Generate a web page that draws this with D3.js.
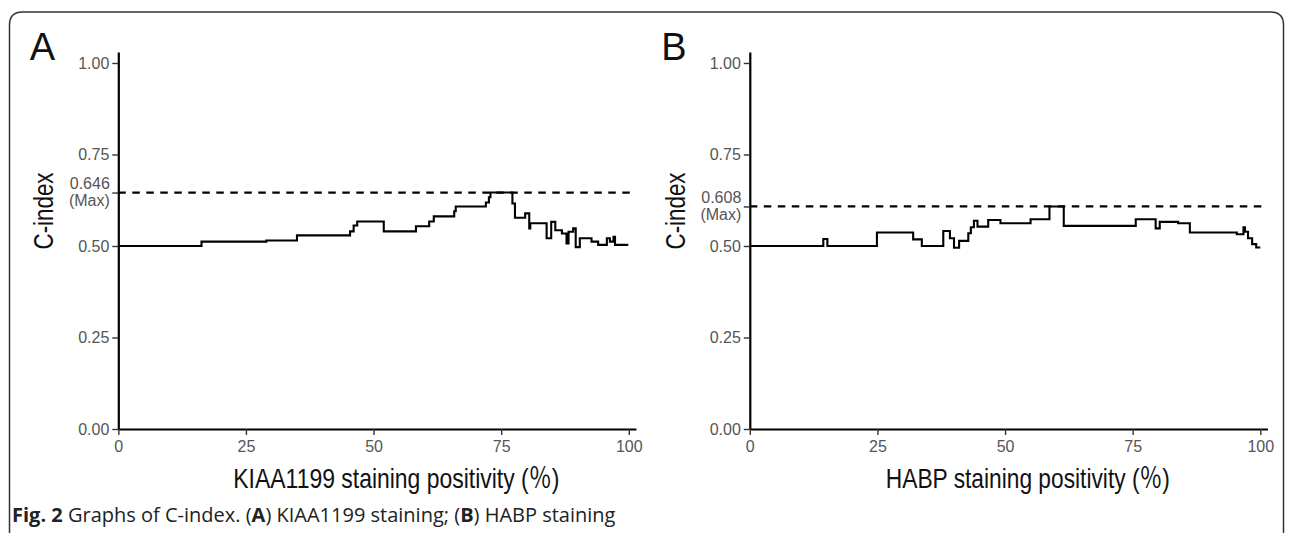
<!DOCTYPE html>
<html>
<head>
<meta charset="utf-8">
<script src="https://cdn.jsdelivr.net/npm/d3@7"></script>
<style>
body { margin: 0; background: #fff; }
svg { display: block; }
</style>
</head>
<body>
<svg width="1293" height="533"></svg>
<script>
// tick values shared by both panels
var xTicks = [0, 25, 50, 75, 100];
var yTicks = [0, 0.25, 0.5, 0.75, 1];

// panel A - KIAA1199, step curve (x = staining positivity %, y = C-index)
var kiaaPos = [0, 16.3, 29, 35, 45.4, 46.1, 46.8, 52.0, 58.3, 60.9, 61.8, 65.8, 66.1, 72.0, 72.6, 72.9,
    77.2, 77.7, 79.7, 80.5, 80.7, 83.9, 84.8, 85.6, 86.9, 87.8, 88.2, 89.1, 89.6, 90.4, 92.7, 94.0,
    95.7, 96.3, 97.0, 97.3, 99.9];
var kiaaCidx = [0.500, 0.512, 0.515, 0.529, 0.540, 0.556, 0.567, 0.540, 0.554, 0.567, 0.581, 0.595, 0.608, 0.619, 0.633, 0.646,
    0.616, 0.577, 0.589, 0.548, 0.562, 0.521, 0.566, 0.543, 0.534, 0.507, 0.539, 0.548, 0.497, 0.521, 0.512, 0.503,
    0.521, 0.512, 0.525, 0.503, 0.503];
var kiaaMax = 0.646;

// panel B - HABP
var habpPos = [0, 14.4, 15.2, 24.9, 32.0, 33.7, 37.9, 39.2, 40.0, 41.0, 42.8, 43.3, 43.9, 44.6, 46.7, 49.1,
    55.0, 58.7, 61.5, 75.6, 79.5, 80.3, 83.9, 86.2, 95.4, 96.7, 97.0, 97.6, 98.4, 99.2, 100];
var habpCidx = [0.500, 0.519, 0.500, 0.537, 0.518, 0.500, 0.541, 0.521, 0.495, 0.514, 0.535, 0.551, 0.569, 0.553, 0.571, 0.562,
    0.573, 0.608, 0.555, 0.573, 0.548, 0.566, 0.562, 0.537, 0.532, 0.551, 0.539, 0.521, 0.505, 0.496, 0.496];
var habpMax = 0.608;

var letters = ["A", "B"];
var xTitles = ["KIAA1199 staining positivity (\uFF05)", "HABP staining positivity (\uFF05)"];
var yTitle = "C-index";

var svg = d3.select("svg");
var W = 1293, H = 533;

// rounded frame round the figure
var r = 13, fl = 9.5, fr = 1283.5, ft = 12;
svg.append("path")
    .attr("d", "M" + fl + "," + H + " L" + fl + "," + (ft + r) +
        " Q" + fl + "," + ft + " " + (fl + r) + "," + ft +
        " L" + (fr - r) + "," + ft +
        " Q" + fr + "," + ft + " " + fr + "," + (ft + r) +
        " L" + fr + "," + H)
    .attr("fill", "none")
    .attr("stroke", "#333")
    .attr("stroke-width", 1.5);

var font = "'Liberation Sans', Arial, 'Noto Sans CJK JP', sans-serif";

function drawPanel(i, x0, pos, cidx, maxC) {
    var x = d3.scaleLinear().domain([0, 101.4]).range([x0, x0 + 101.4 * 5.105]);
    var y = d3.scaleLinear().domain([0, 1.03]).range([429, 52]);
    var g = svg.append("g");

    // panel letter
    g.append("text")
        .attr("x", x0 - 88.5)
        .attr("y", 60)
        .attr("font-family", font)
        .attr("font-size", "38px")
        .attr("fill", "#111")
        .text(letters[i]);

    // y axis
    var yAxis = d3.axisLeft(y)
        .tickValues(yTicks.concat([maxC]))
        .tickSize(6).tickSizeOuter(0).tickPadding(3)
        .tickFormat(function (d) { return d === maxC ? "" : d3.format(".2f")(d); });
    var gY = g.append("g").attr("transform", "translate(" + x0 + ",0)").call(yAxis);

    // x axis
    var xAxis = d3.axisBottom(x)
        .tickValues(xTicks)
        .tickSize(6).tickSizeOuter(0).tickPadding(5.5)
        .tickFormat(d3.format("d"));
    var gX = g.append("g").attr("transform", "translate(0,429)").call(xAxis);

    [gX, gY].forEach(function (a) {
        a.select(".domain").attr("stroke", "#000").attr("stroke-width", 2.2);
        a.selectAll(".tick line").attr("stroke", "#333").attr("stroke-width", 1.4);
        a.selectAll(".tick text")
            .attr("font-family", font)
            .attr("font-size", "16px")
            .attr("fill", "#555");
    });

    // two-line label for the maximum
    var mt = gY.selectAll(".tick").filter(function (d) { return d === maxC; }).select("text");
    mt.attr("dy", null);
    mt.append("tspan").attr("x", -8.5).attr("dy", -4.3).text(d3.format(".3f")(maxC));
    mt.append("tspan").attr("x", -8.5).attr("dy", 17.4).text("(Max)");

    // dashed max line
    g.append("line")
        .attr("x1", x(0)).attr("x2", x(101.4))
        .attr("y1", y(maxC)).attr("y2", y(maxC))
        .attr("stroke", "#000")
        .attr("stroke-width", 2.2)
        .attr("stroke-dasharray", "7.5,6.5");

    // C-index step line
    var pts = pos.map(function (p, k) { return [p, cidx[k]]; });
    var line = d3.line()
        .x(function (d) { return x(d[0]); })
        .y(function (d) { return y(d[1]); })
        .curve(d3.curveStepAfter);
    g.append("path")
        .datum(pts)
        .attr("d", line)
        .attr("fill", "none")
        .attr("stroke", "#000")
        .attr("stroke-width", 2.1);

    // axis titles
    g.append("text")
        .attr("x", x0 + 278)
        .attr("y", 488)
        .attr("text-anchor", "middle")
        .attr("font-family", font)
        .attr("font-size", "28px")
        .attr("fill", "#111")
        .attr("textLength", i === 0 ? 326 : 284)
        .attr("lengthAdjust", "spacingAndGlyphs")
        .text(xTitles[i]);

    g.append("text")
        .attr("transform", "translate(" + (x0 - 65) + ",211) rotate(-90)")
        .attr("text-anchor", "middle")
        .attr("font-family", font)
        .attr("font-size", "28px")
        .attr("fill", "#111")
        .attr("textLength", 77)
        .attr("lengthAdjust", "spacingAndGlyphs")
        .text(yTitle);
}

drawPanel(0, 118.3, kiaaPos, kiaaCidx, kiaaMax);
drawPanel(1, 749.8, habpPos, habpCidx, habpMax);

// caption
var cap = svg.append("text")
    .attr("x", 12)
    .attr("y", 522)
    .attr("font-family", "'Open Sans', 'Noto Sans', sans-serif")
    .attr("font-size", "20px")
    .attr("fill", "#222");
cap.append("tspan").attr("font-weight", "bold").text("Fig. 2");
cap.append("tspan").text(" Graphs of C-index. (");
cap.append("tspan").attr("font-weight", "bold").text("A");
cap.append("tspan").text(") KIAA1199 staining; (");
cap.append("tspan").attr("font-weight", "bold").text("B");
cap.append("tspan").text(") HABP staining");
</script>
</body>
</html>
